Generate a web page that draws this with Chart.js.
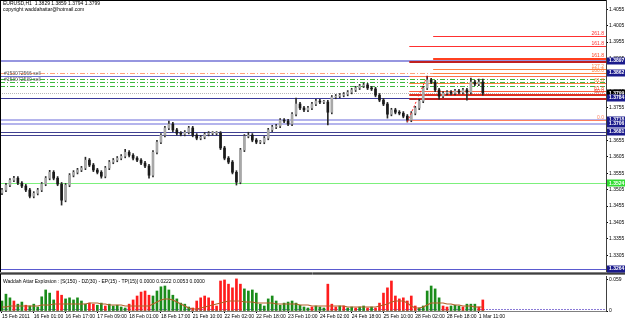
<!DOCTYPE html>
<html><head><meta charset="utf-8">
<script src="https://cdn.jsdelivr.net/npm/chart.js@4.4.0/dist/chart.umd.min.js"></script>
<style>
html,body{margin:0;padding:0;background:#fff;}
#wrap{position:relative;width:625px;height:321px;overflow:hidden;background:#fff;}
#c1{position:absolute;left:0;top:0;}
#c2{position:absolute;left:0;top:274px;}
</style></head><body>
<div id="wrap"><canvas id="c1" width="625" height="274"></canvas><canvas id="c2" width="625" height="47"></canvas></div>
<script>
// ---------- DATA ----------
const titleText = "EURUSD,H1  1.3829 1.3859 1.3794 1.3799";
const copyrightText = "copyright waddahattar@hotmail.com";
const orderTexts = ["#153072566 sell", "#153072530 sell"];
const orderTextPrices = [1.3852, 1.3833];
const indicatorTitle = "Waddah Attar Explosion : [S(150) - DZ(30) - EP(15) - TP(15)] 0.0000 0.0222 0.0053 0.0000";

// bar time index (hours from 15 Feb 2011 first bar), 2-hour sampling
const barHour = [0,2,4,6,8,10,12,14,16,18,20,22,24,26,28,30,32,34,36,38,40,42,44,46,48,50,52,54,56,58,60,62,64,66,68,70,72,74,76,78,80,82,84,86,88,90,92,94,96,98,100,102,104,106,108,110,112,114,116,118,120,122,124,126,128,130,132,134,136,138,140,142,144,146,148,150,152,154,156,158,160,162,164,166,168,170,172,174,176,178,180,182,184,186,188,190,192,194,196,198,200,202,204,206,208,210,212,214,216,218,220,222,224,226,228,230,232,234,236,238,240,242];

const openP = [1.3495,1.3504,1.3519,1.3534,1.3540,1.3525,1.3516,1.3504,1.3485,1.3494,
1.3504,1.3522,1.3540,1.3558,1.3540,1.3522,1.3473,1.3519,1.3549,1.3558,
1.3565,1.3571,1.3595,1.3580,1.3565,1.3558,1.3546,1.3571,1.3589,1.3595,
1.3601,1.3607,1.3619,1.3610,1.3601,1.3595,1.3586,1.3577,1.3549,1.3619,
1.3650,1.3671,1.3693,1.3705,1.3687,1.3677,1.3674,1.3680,1.3693,1.3671,
1.3662,1.3665,1.3674,1.3677,1.3677,1.3677,1.3632,1.3601,1.3589,1.3558,
1.3528,1.3626,1.3668,1.3671,1.3656,1.3650,1.3650,1.3662,1.3687,1.3696,
1.3699,1.3717,1.3714,1.3705,1.3735,1.3766,1.3754,1.3748,1.3754,1.3766,
1.3775,1.3772,1.3772,1.3741,1.3787,1.3790,1.3793,1.3796,1.3802,1.3809,
1.3815,1.3821,1.3824,1.3815,1.3812,1.3793,1.3778,1.3766,1.3735,1.3748,
1.3741,1.3738,1.3729,1.3717,1.3738,1.3754,1.3775,1.3815,1.3839,1.3833,
1.3809,1.3790,1.3799,1.3802,1.3799,1.3806,1.3802,1.3809,1.3802,1.3833,
1.3827,1.3833];
const highP = [1.3509,1.3524,1.3539,1.3546,1.3545,1.3530,1.3521,1.3509,1.3499,1.3509,
1.3527,1.3545,1.3564,1.3563,1.3545,1.3527,1.3524,1.3554,1.3563,1.3570,
1.3576,1.3604,1.3600,1.3585,1.3570,1.3563,1.3576,1.3594,1.3600,1.3606,
1.3612,1.3628,1.3624,1.3615,1.3606,1.3600,1.3591,1.3582,1.3624,1.3655,
1.3676,1.3698,1.3714,1.3710,1.3692,1.3682,1.3685,1.3698,1.3698,1.3676,
1.3670,1.3679,1.3682,1.3682,1.3682,1.3682,1.3637,1.3606,1.3594,1.3563,
1.3631,1.3673,1.3680,1.3676,1.3661,1.3655,1.3667,1.3692,1.3701,1.3704,
1.3722,1.3722,1.3719,1.3740,1.3784,1.3771,1.3759,1.3759,1.3771,1.3780,
1.3780,1.3777,1.3777,1.3792,1.3795,1.3798,1.3801,1.3807,1.3814,1.3820,
1.3826,1.3830,1.3829,1.3820,1.3817,1.3798,1.3783,1.3771,1.3753,1.3753,
1.3746,1.3743,1.3734,1.3743,1.3759,1.3780,1.3820,1.3851,1.3844,1.3838,
1.3814,1.3804,1.3807,1.3807,1.3811,1.3811,1.3814,1.3814,1.3845,1.3838,
1.3842,1.3842];
const lowP = [1.3490,1.3499,1.3514,1.3529,1.3520,1.3511,1.3499,1.3480,1.3480,1.3489,
1.3499,1.3517,1.3535,1.3535,1.3517,1.3458,1.3468,1.3514,1.3544,1.3553,
1.3560,1.3566,1.3575,1.3560,1.3553,1.3540,1.3541,1.3566,1.3584,1.3590,
1.3596,1.3602,1.3605,1.3596,1.3590,1.3581,1.3572,1.3540,1.3544,1.3614,
1.3645,1.3666,1.3688,1.3682,1.3672,1.3669,1.3669,1.3675,1.3666,1.3657,
1.3657,1.3660,1.3669,1.3672,1.3672,1.3627,1.3596,1.3584,1.3553,1.3519,
1.3523,1.3621,1.3663,1.3651,1.3645,1.3645,1.3645,1.3657,1.3682,1.3691,
1.3694,1.3709,1.3700,1.3700,1.3730,1.3749,1.3743,1.3743,1.3749,1.3761,
1.3767,1.3767,1.3702,1.3736,1.3782,1.3785,1.3788,1.3791,1.3797,1.3804,
1.3810,1.3816,1.3810,1.3807,1.3788,1.3773,1.3761,1.3723,1.3730,1.3736,
1.3733,1.3724,1.3711,1.3712,1.3733,1.3749,1.3770,1.3810,1.3828,1.3804,
1.3781,1.3785,1.3794,1.3794,1.3794,1.3797,1.3797,1.3778,1.3797,1.3822,
1.3822,1.3793];
const closeP = [1.3504,1.3519,1.3534,1.3540,1.3525,1.3516,1.3504,1.3485,1.3494,1.3504,
1.3522,1.3540,1.3558,1.3540,1.3522,1.3473,1.3519,1.3549,1.3558,1.3565,
1.3571,1.3595,1.3580,1.3565,1.3558,1.3546,1.3571,1.3589,1.3595,1.3601,
1.3607,1.3619,1.3610,1.3601,1.3595,1.3586,1.3577,1.3549,1.3619,1.3650,
1.3671,1.3693,1.3705,1.3687,1.3677,1.3674,1.3680,1.3693,1.3671,1.3662,
1.3665,1.3674,1.3677,1.3677,1.3677,1.3632,1.3601,1.3589,1.3558,1.3528,
1.3626,1.3668,1.3671,1.3656,1.3650,1.3650,1.3662,1.3687,1.3696,1.3699,
1.3717,1.3714,1.3705,1.3735,1.3766,1.3754,1.3748,1.3754,1.3766,1.3775,
1.3772,1.3772,1.3741,1.3787,1.3790,1.3793,1.3796,1.3802,1.3809,1.3815,
1.3821,1.3824,1.3815,1.3812,1.3793,1.3778,1.3766,1.3735,1.3748,1.3741,
1.3738,1.3729,1.3717,1.3738,1.3754,1.3775,1.3815,1.3839,1.3833,1.3809,
1.3790,1.3799,1.3802,1.3799,1.3806,1.3802,1.3809,1.3802,1.3833,1.3827,
1.3833,1.3799];

// Waddah Attar Explosion histogram
const waeUp = [0.019,0.032,0.025,0,0.013,0.017,0,0.0095,0.013,0.0076,
0.027,0.040,0.034,0.021,0,0,0.023,0.025,0.021,0.025,
0.019,0.013,0,0,0.011,0.015,0,0.013,0.0095,0.011,
0.0076,0.0057,0,0,0,0,0,0,0.0285,0.038,
0.046,0.0475,0.040,0.030,0.023,0.015,0.013,0.0076,0,0,
0,0,0,0,0,0,0,0,0,0,
0,0.042,0.038,0.040,0.034,0.013,0.0095,0.023,0.0285,0.019,
0.011,0.015,0.017,0.019,0.015,0.011,0.0076,0.0057,0,0.0095,
0.0076,0.0057,0,0,0,0.0095,0,0.0057,0.0076,0,
0.0076,0.0095,0,0.0076,0,0,0,0,0,0,
0,0,0,0,0,0.0057,0.0095,0.038,0.0475,0.042,
0.025,0,0,0.0095,0.011,0.0095,0,0.013,0.013,0.013,
0,0];
const waeDown = [0,0,0,0.019,0,0,0.011,0,0,0,
0,0,0,0,0.038,0.030,0,0,0,0,
0,0,0.015,0.013,0,0,0.0095,0,0,0,
0,0,0.013,0.021,0.0285,0.036,0.038,0.030,0,0,
0,0,0,0,0,0,0,0,0.0057,0.019,
0.025,0.0285,0.025,0.019,0.0095,0.057,0.059,0.051,0.044,0.061,
0.051,0,0,0,0,0,0,0,0,0,
0,0,0,0,0,0,0,0,0.0076,0,
0,0,0.051,0.013,0.0076,0,0.0095,0,0,0.0057,
0,0,0.0057,0,0.0057,0.015,0.034,0.044,0.057,0.0285,
0.023,0.025,0.019,0.0285,0.0095,0,0,0,0,0,
0,0.0095,0.0076,0,0,0,0.0076,0,0,0,
0.0076,0.021];
const waeExplosion = [0.0076,0.0076,0.0095,0.0095,0.0095,0.0095,0.0095,0.0095,0.0095,0.0095,
0.0114,0.0114,0.0114,0.0133,0.0133,0.0133,0.0133,0.0133,0.0133,0.0133,0.0133,
0.0133,0.0152,0.0152,0.0152,0.0133,0.0133,0.0114,0.0114,0.0114,0.0114,
0.0095,0.0095,0.0095,0.0095,0.0095,0.0095,0.0095,
0.0133,0.0171,0.0209,0.0228,0.0228,0.0209,0.0171,
0.0133,0.0095,0.0057,0.0038,0.0038,
0.0057,0.0076,0.0095,0.0114,0.0133,0.0152,0.0171,
0.019,0.019,0.019,0.019,0.0171,0.0171,0.0171,0.0152,
0.0152,0.0152,0.0152,0.0152,0.0133,0.0133,0.0133,0.0133,0.0133,0.0133,0.0114,0.0114,0.0114,0.0095,0.0095,0.0095,
0.0095,0.0095,0.0095,0.0095,0.0095,0.0095,0.0076,0.0076,0.0076,0.0076,0.0076,0.0076,0.0076,0.0076,0.0095,
0.0114,0.0133,0.0171,0.019,0.019,0.019,0.0152,0.0095,
0.0057,0.0057,0.0076,0.0114,0.0152,0.0152,0.0152,
0.0152,0.0133,0.0133,0.0114,0.0114,0.0095,0.0095,0.0095,0.0076,0.0076,0.0076];
const waeDeadZone = 0.0030;

// axes
const priceTicks = [1.4055,1.4005,1.3955,1.3905,1.3855,1.3805,1.3755,1.3705,1.3655,1.3605,1.3555,1.3505,1.3455,1.3405,1.3355,1.3305,1.3255];
const waeTicks = [0.059, 0];
const timeTickHours = [0,16,32,48,64,80,96,112,128,144,160,176,192,208,224,240];
const timeTickLabels = ["15 Feb 2011","16 Feb 01:00","16 Feb 17:00","17 Feb 09:00","18 Feb 01:00","18 Feb 17:00","21 Feb 10:00","22 Feb 02:00","22 Feb 18:00","23 Feb 10:00","24 Feb 02:00","24 Feb 18:00","25 Feb 10:00","28 Feb 02:00","28 Feb 18:00","1 Mar 11:00"];

// horizontal levels (full width)
const levelPrices = [1.3897,1.3862,1.3852,1.3843,1.3833,1.3821,1.3799,1.3784,1.3718,1.3706,1.3681,1.3672,1.3524,1.3264];
// fibonacci levels
const fibPrices = [1.3973,1.3943,1.3903,1.3894,1.3873,1.3862,1.3851,1.3830,1.3805,1.3793,1.3781,1.3717];
const fibStartHours = [217,205,217,205,217,217,205,205,205,205,205,205];
const fibLabels = ["261.8","161.8","161.8","","127.2","100.0","","61.8","61.8","50.0","","0.0"];
const trendHours = [204,214];
const trendPrices = [1.3711,1.3851];
// price boxes on the right axis
const boxPrices = [1.3897,1.3862,1.3799,1.3784,1.3718,1.3706,1.3681,1.3524,1.3264];

// ---------- STYLES ----------
const FONT = '"Liberation Sans", Arial, sans-serif';
const levelStyles = [
 {c:'#9696e0',w:2,d:[]},{c:'#ffa07a',w:1,d:[5,2,1,2]},{c:'#6a6ad0',w:1,d:[]},
 {c:'#3cb83c',w:1,d:[5,2,1,2]},{c:'#3cb83c',w:1,d:[5,2,1,2]},{c:'#3cb83c',w:1,d:[5,2,1,2]},
 {c:'#b8b8b8',w:1,d:[1,1]},{c:'#3a3a9a',w:1,d:[]},{c:'#b4b4ec',w:2,d:[]},{c:'#b4b4ec',w:2,d:[]},
 {c:'#404090',w:1,d:[]},{c:'#404090',w:1,d:[]},{c:'#7cf07c',w:1,d:[]},{c:'#5a5ad0',w:1,d:[]}
];
const fibStyles = [
 {c:'#ff3030',w:1},{c:'#ff3030',w:1},{c:'#ff4020',w:2},{c:'#c02020',w:2},{c:'#ff8040',w:1},{c:'#ff8040',w:1},
 {c:'#ff7050',w:1},{c:'#ff8040',w:1},{c:'#ff6040',w:1},{c:'#e03020',w:2},{c:'#c02020',w:2},{c:'#ff8060',w:1}
];
const boxStyles = [
 {bg:'#1a1a8c',fg:'#fff'},{bg:'#1a1a8c',fg:'#fff'},{bg:'#000000',fg:'#fff'},{bg:'#1a1a8c',fg:'#fff'},
 {bg:'#1a1a8c',fg:'#fff'},{bg:'#1a1a8c',fg:'#fff'},{bg:'#1a1a8c',fg:'#fff'},{bg:'#33dd33',fg:'#fff'},{bg:'#1a1a8c',fg:'#fff'}
];

// ---------- MAIN CHART ----------
const mainOverlay = {
  id:'mainOverlay',
  beforeDatasetsDraw(chart){
    const {ctx, chartArea:a, scales:{x,y}} = chart;
    ctx.save();
    levelPrices.forEach((p,i)=>{
      const s = levelStyles[i]; const py = Math.round(y.getPixelForValue(p)) + (s.w===1?0.5:0);
      ctx.strokeStyle = s.c; ctx.lineWidth = s.w; ctx.setLineDash(s.d);
      ctx.beginPath(); ctx.moveTo(a.left, py); ctx.lineTo(a.right, py); ctx.stroke();
    });
    ctx.setLineDash([]);
    fibPrices.forEach((p,i)=>{
      const s = fibStyles[i]; const py = Math.round(y.getPixelForValue(p)) + (s.w===1?0.5:0);
      const x0 = x.getPixelForValue(fibStartHours[i]);
      ctx.strokeStyle = s.c; ctx.lineWidth = s.w;
      ctx.beginPath(); ctx.moveTo(x0, py); ctx.lineTo(a.right, py); ctx.stroke();
      if (fibLabels[i]) {
        ctx.fillStyle = s.c; ctx.font = '5px ' + FONT; ctx.textAlign='right'; ctx.textBaseline='bottom';
        ctx.fillText(fibLabels[i], a.right - 2, py - 0.5);
      }
    });
    ctx.restore();
  },
  afterDraw(chart){
    const {ctx, chartArea:a, scales:{y}} = chart;
    ctx.save();
    ctx.strokeStyle = '#000'; ctx.lineWidth = 1;
    ctx.beginPath(); ctx.moveTo(0.5, 0); ctx.lineTo(0.5, a.bottom); ctx.moveTo(0, 0.5); ctx.lineTo(a.right, 0.5); ctx.stroke();
    ctx.strokeStyle = '#808080';
    ctx.beginPath(); ctx.moveTo(0, a.bottom - 1.5); ctx.lineTo(625, a.bottom - 1.5); ctx.stroke();
    ctx.strokeStyle = '#404040';
    ctx.beginPath(); ctx.moveTo(0, a.bottom - 0.5); ctx.lineTo(625, a.bottom - 0.5); ctx.stroke();
    // texts
    ctx.fillStyle = '#000'; ctx.font = '5px ' + FONT; ctx.textAlign='left'; ctx.textBaseline='middle';
    ctx.fillText(titleText, 3, 4);
    ctx.fillText(copyrightText, 3, 10);
    ctx.fillStyle = '#505050';
    orderTexts.forEach((t,i)=>{ ctx.fillText(t, 4, y.getPixelForValue(orderTextPrices[i]) - 2); });
    // boxes
    boxPrices.forEach((p,i)=>{
      const py = y.getPixelForValue(p);
      ctx.fillStyle = boxStyles[i].bg; ctx.fillRect(a.right + 1, Math.round(py) - 3.5, 19, 7);
      ctx.fillStyle = boxStyles[i].fg; ctx.font = 'bold 5px ' + FONT; ctx.textBaseline='middle';
      ctx.fillText(p.toFixed(4), a.right + 3, py);
    });
    ctx.restore();
  }
};

const bodyData = barHour.map((h,i)=>({x:h, y:[openP[i], closeP[i]]}));
const wickData = barHour.map((h,i)=>({x:h, y:[lowP[i], highP[i]]}));
const trendData = trendHours.map((h,i)=>({x:h, y:trendPrices[i]}));

new Chart(document.getElementById('c1'), {
  type:'bar',
  data:{datasets:[
    {type:'line', data:trendData, borderColor:'#ff2020', borderWidth:1, borderDash:[2,2], pointRadius:0, order:-1},
    {data:bodyData, backgroundColor:c=>closeP[c.dataIndex]>=openP[c.dataIndex]?'#a8a8a8':'#1a1a1a', barThickness:2, grouped:false, minBarLength:1, order:0},
    {data:wickData, backgroundColor:'#2a2a2a', barThickness:1, grouped:false, order:1}
  ]},
  options:{
    responsive:false, animation:false, devicePixelRatio:1,
    layout:{padding:0},
    plugins:{legend:{display:false}, tooltip:{enabled:false}},
    scales:{
      x:{type:'linear', min:-1, max:304, offset:false, display:false},
      y:{position:'right', min:1.3248, max:1.4083,
         afterFit:s=>{s.width=19; s.paddingTop=0; s.paddingBottom=0;},
         afterBuildTicks:s=>{s.ticks = priceTicks.map(v=>({value:v}));},
         ticks:{font:{family:FONT,size:5}, color:'#000', padding:1, callback:v=>Number(v).toFixed(4)},
         grid:{drawOnChartArea:false, tickLength:2, color:'#000'},
         border:{display:true, color:'#404040'}}
    }
  },
  plugins:[mainOverlay]
});

// ---------- INDICATOR CHART ----------
const indOverlay = {
  id:'indOverlay',
  beforeDatasetsDraw(chart){
    const {ctx, chartArea:a, scales:{y}} = chart;
    ctx.save();
    const py = Math.round(y.getPixelForValue(waeDeadZone)) + 0.5;
    ctx.strokeStyle = '#8a7ad8'; ctx.setLineDash([2,1]); ctx.lineWidth = 1;
    ctx.beginPath(); ctx.moveTo(a.left, py); ctx.lineTo(a.right, py); ctx.stroke();
    ctx.restore();
  },
  afterDraw(chart){
    const {ctx, chartArea:a} = chart;
    ctx.save();
    ctx.strokeStyle = '#808080'; ctx.lineWidth = 1;
    ctx.beginPath(); ctx.moveTo(0, 0.5); ctx.lineTo(625, 0.5); ctx.stroke();
    ctx.strokeStyle = '#000';
    ctx.beginPath(); ctx.moveTo(0.5, 0); ctx.lineTo(0.5, a.bottom); ctx.stroke();
    ctx.fillStyle = '#000'; ctx.font = '5px ' + FONT; ctx.textAlign='left'; ctx.textBaseline='middle';
    ctx.fillText(indicatorTitle, 3, 8);
    ctx.restore();
  }
};

new Chart(document.getElementById('c2'), {
  type:'bar',
  data:{datasets:[
    {type:'line', data:barHour.map((h,i)=>({x:h,y:waeExplosion[i]})), borderColor:'#b5602a', borderWidth:1.2, pointRadius:0, order:-1},
    {data:barHour.map((h,i)=>({x:h,y:waeUp[i]})), backgroundColor:'#1a8c1a', barThickness:2, grouped:false, order:0},
    {data:barHour.map((h,i)=>({x:h,y:waeDown[i]})), backgroundColor:'#ff1c1c', barThickness:2, grouped:false, order:0}
  ]},
  options:{
    responsive:false, animation:false, devicePixelRatio:1,
    layout:{padding:{top:2,left:0,right:0,bottom:0}},
    plugins:{legend:{display:false}, tooltip:{enabled:false}},
    scales:{
      x:{type:'linear', min:-1, max:304, offset:false,
         afterFit:s=>{s.height=10; s.paddingLeft=0; s.paddingRight=0;},
         afterBuildTicks:s=>{s.ticks = timeTickHours.map(v=>({value:v}));},
         ticks:{font:{family:FONT,size:5}, color:'#000', padding:1, maxRotation:0, autoSkip:false, align:'start',
                callback:(v,i)=>timeTickLabels[i]},
         grid:{drawOnChartArea:false, offset:false, tickLength:2, color:'#000'},
         border:{display:true, color:'#808080'}},
      y:{position:'right', min:0, max:0.0665,
         afterFit:s=>{s.width=19; s.paddingTop=0; s.paddingBottom=0;},
         afterBuildTicks:s=>{s.ticks = waeTicks.map(v=>({value:v}));},
         ticks:{font:{family:FONT,size:5}, color:'#000', padding:1, callback:v=>v===0?'0':Number(v).toFixed(3)},
         grid:{drawOnChartArea:false, tickLength:2, color:'#000'},
         border:{display:true, color:'#404040'}}
    }
  },
  plugins:[indOverlay]
});
</script>
</body></html>
